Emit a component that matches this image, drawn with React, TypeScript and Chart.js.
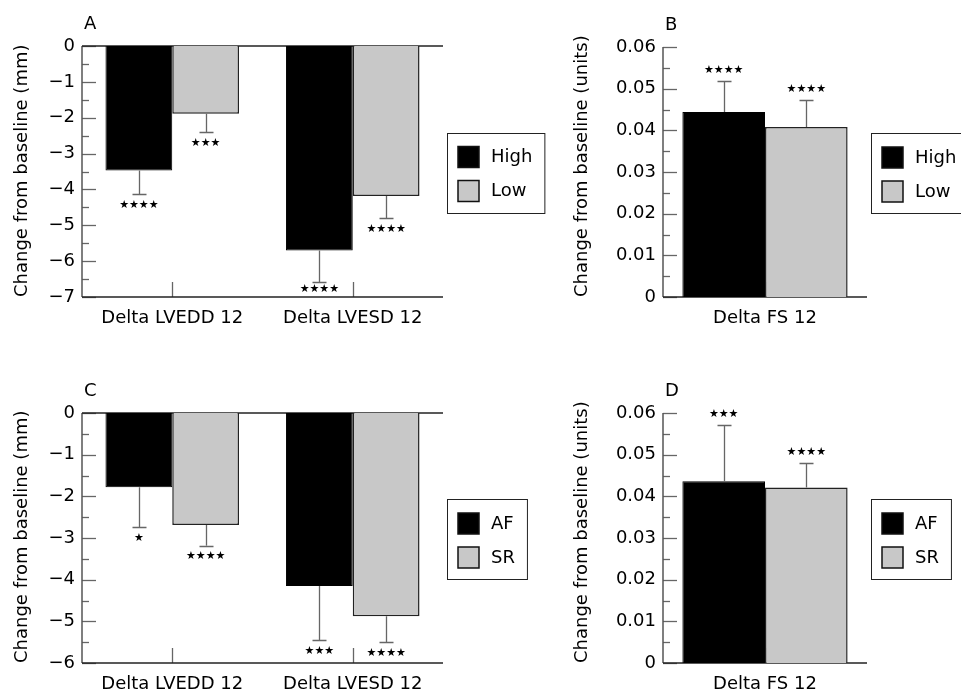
import React, { useEffect, useRef } from "react";
import { Chart, registerables } from "chart.js";

Chart.register(...registerables);

// ---------- DATA ----------
const dimCategories = ["Delta LVEDD 12", "Delta LVESD 12"];
const fsCategories = ["Delta FS 12"];

// Panel A (High / Low)
const aHigh = [-3.47, -5.7];
const aHighErr = [0.65, 0.89];
const aHighStars = ["****", "****"];
const aLow = [-1.89, -4.18];
const aLowErr = [0.51, 0.62];
const aLowStars = ["***", "****"];

// Panel B (High / Low)
const bHigh = [0.0444];
const bHighErr = [0.0074];
const bHighStars = ["****"];
const bLow = [0.0408];
const bLowErr = [0.0065];
const bLowStars = ["****"];

// Panel C (AF / SR)
const cAF = [-1.78, -4.15];
const cAFErr = [0.96, 1.29];
const cAFStars = ["*", "***"];
const cSR = [-2.69, -4.88];
const cSRErr = [0.49, 0.61];
const cSRStars = ["****", "****"];

// Panel D (AF / SR)
const dAF = [0.0436];
const dAFErr = [0.0134];
const dAFStars = ["***"];
const dSR = [0.0421];
const dSRErr = [0.0058];
const dSRStars = ["****"];

const mmTicks = { A: { min: -7, max: 0, step: 1 }, C: { min: -6, max: 0, step: 1 } };
const unitTicks = { min: 0, max: 0.06, step: 0.01 };

const FONT = "'DejaVu Sans', sans-serif";
const BLACK = "#000000";
const GREY = "#c8c8c8";

type PanelCfg = {
  letter: string;
  categories: string[];
  labels: [string, string];
  values: [number[], number[]];
  errs: [number[], number[]];
  stars: [string[], string[]];
  yMin: number;
  yMax: number;
  yStep: number;
  yTitle: string;
  fmt: (v: number) => string;
  catPct: number;
  width: number;
  height: number;
  padTop: number;
  padRight: number;
  yWidth: number;
  xHeight: number;
};

const panelPlugin = {
  id: "panelDecor",
  beforeDatasetsDraw(chart: any) {
    const ctx = chart.ctx;
    const area = chart.chartArea;
    const y = chart.scales.y;
    const x = chart.scales.x;
    const cfg = chart.options.plugins.panelDecor;
    ctx.save();
    // minor + major inward ticks
    ctx.strokeStyle = "#666";
    ctx.lineWidth = 1.3;
    const ticks = y.ticks.map((t: any) => t.value);
    ticks.forEach((v: number, i: number) => {
      const py = Math.round(y.getPixelForValue(v)) + 0.5;
      ctx.beginPath();
      ctx.moveTo(area.left, py);
      ctx.lineTo(area.left + 14, py);
      ctx.stroke();
      if (i < ticks.length - 1) {
        const mid = (v + ticks[i + 1]) / 2;
        const pm = Math.round(y.getPixelForValue(mid)) + 0.5;
        ctx.beginPath();
        ctx.moveTo(area.left, pm);
        ctx.lineTo(area.left + 7, pm);
        ctx.stroke();
      }
    });
    // category ticks (inward from bottom)
    x.ticks.forEach((_t: any, i: number) => {
      const px = Math.round(x.getPixelForTick(i)) + 0.5;
      ctx.beginPath();
      ctx.moveTo(px, area.bottom);
      ctx.lineTo(px, area.bottom - 15);
      ctx.stroke();
    });
    // axes
    ctx.strokeStyle = "#555";
    ctx.lineWidth = 1.5;
    ctx.beginPath();
    ctx.moveTo(area.left, area.top);
    ctx.lineTo(area.left, area.bottom);
    ctx.stroke();
    ctx.strokeStyle = "#222";
    ctx.lineWidth = 1.3;
    ctx.beginPath();
    ctx.moveTo(area.left, area.bottom);
    ctx.lineTo(area.right, area.bottom);
    ctx.stroke();
    const p0 = y.getPixelForValue(0);
    if (p0 < area.bottom - 1) {
      ctx.beginPath();
      ctx.moveTo(area.left, p0);
      ctx.lineTo(area.right, p0);
      ctx.stroke();
    }
    // panel letter
    ctx.fillStyle = "#000";
    ctx.font = `18px ${FONT}`;
    ctx.textAlign = "left";
    ctx.textBaseline = "middle";
    ctx.fillText(cfg.letter, area.left + 2, area.top - 22);
    ctx.restore();
  },
  afterDatasetsDraw(chart: any) {
    const ctx = chart.ctx;
    const area = chart.chartArea;
    const y = chart.scales.y;
    const cfg = chart.options.plugins.panelDecor;
    ctx.save();
    chart.data.datasets.forEach((ds: any, di: number) => {
      const meta = chart.getDatasetMeta(di);
      meta.data.forEach((bar: any, i: number) => {
        const v = ds.data[i];
        const e = cfg.errs[di][i];
        const end = v < 0 ? v - e : v + e;
        const pv = y.getPixelForValue(v);
        const pe = y.getPixelForValue(end);
        const bx = Math.round(bar.x) + 0.5;
        ctx.strokeStyle = "#666";
        ctx.lineWidth = 1.3;
        ctx.beginPath();
        ctx.moveTo(bx, pv);
        ctx.lineTo(bx, pe);
        ctx.moveTo(bx - 7, Math.round(pe) + 0.5);
        ctx.lineTo(bx + 7, Math.round(pe) + 0.5);
        ctx.stroke();
        // stars
        const s = cfg.stars[di][i].replace(/\*/g, "\u2605");
        ctx.fillStyle = "#000";
        ctx.font = `11px ${FONT}`;
        ctx.textAlign = "center";
        ctx.textBaseline = "middle";
        let sy = v < 0 ? pe + 11 : pe - 11;
        if (v < 0) sy = Math.min(sy, area.bottom - 8);
        ctx.fillText(s, bar.x, sy);
      });
    });
    ctx.restore();
  },
  afterDraw(chart: any) {
    const ctx = chart.ctx;
    const area = chart.chartArea;
    ctx.save();
    ctx.font = `18px ${FONT}`;
    const labels = chart.data.datasets.map((d: any) => d.label);
    const tw = Math.max(...labels.map((l: string) => ctx.measureText(l).width));
    const w = 11 + 21 + 12 + tw + 12;
    const h = 80;
    const bx = area.right + 4;
    const by = (area.top + area.bottom) / 2 - h / 2 + 1;
    ctx.strokeStyle = "#222";
    ctx.lineWidth = 1;
    ctx.strokeRect(Math.round(bx) + 0.5, Math.round(by) + 0.5, w, h);
    chart.data.datasets.forEach((d: any, i: number) => {
      const sy = by + 14 + i * 34;
      ctx.fillStyle = d.backgroundColor;
      ctx.fillRect(bx + 11, sy, 21, 21);
      ctx.strokeStyle = "#111";
      ctx.lineWidth = 1.5;
      ctx.strokeRect(bx + 11, sy, 21, 21);
      ctx.fillStyle = "#000";
      ctx.textAlign = "left";
      ctx.textBaseline = "middle";
      ctx.fillText(d.label, bx + 11 + 21 + 12, sy + 11);
    });
    ctx.restore();
  },
};

function Panel({ cfg, left, top }: { cfg: PanelCfg; left: number; top: number }) {
  const ref = useRef<HTMLCanvasElement | null>(null);
  useEffect(() => {
    if (!ref.current) return;
    const chart = new Chart(ref.current, {
      type: "bar",
      data: {
        labels: cfg.categories,
        datasets: [
          {
            label: cfg.labels[0],
            data: cfg.values[0],
            backgroundColor: BLACK,
            borderColor: BLACK,
            borderWidth: 1,
          },
          {
            label: cfg.labels[1],
            data: cfg.values[1],
            backgroundColor: GREY,
            borderColor: "#222",
            borderWidth: 1.5,
          },
        ],
      },
      options: {
        animation: false,
        responsive: false,
        maintainAspectRatio: false,
        devicePixelRatio: 1,
        layout: { padding: { top: cfg.padTop, right: cfg.padRight, left: 0, bottom: 0 } },
        datasets: { bar: { categoryPercentage: cfg.catPct, barPercentage: 1 } },
        plugins: {
          legend: { display: false },
          tooltip: { enabled: false },
          title: { display: false },
          panelDecor: { letter: cfg.letter, errs: cfg.errs, stars: cfg.stars },
        } as any,
        scales: {
          x: {
            grid: { display: false, drawTicks: false },
            border: { display: false },
            ticks: { color: "#000", font: { family: FONT, size: 18 }, padding: 11, maxRotation: 0 },
            afterFit: (s: any) => {
              s.height = cfg.xHeight;
            },
          },
          y: {
            min: cfg.yMin,
            max: cfg.yMax,
            grid: { display: false, drawTicks: false },
            border: { display: false },
            ticks: {
              stepSize: cfg.yStep,
              color: "#000",
              font: { family: FONT, size: 18 },
              padding: 7,
              callback: (v: any) => cfg.fmt(Number(v)),
            },
            title: {
              display: true,
              text: cfg.yTitle,
              align: "start",
              color: "#000",
              font: { family: FONT, size: 18 },
              padding: { top: 12, bottom: 0 },
            },
            afterFit: (s: any) => {
              s.width = cfg.yWidth;
            },
          },
        },
      },
      plugins: [panelPlugin],
    });
    return () => chart.destroy();
  }, []);
  return (
    <canvas
      ref={ref}
      width={cfg.width}
      height={cfg.height}
      style={{ position: "absolute", left, top, width: cfg.width, height: cfg.height }}
    />
  );
}

const mmFmt = (v: number) => (Math.abs(v) < 1e-9 ? "0" : v < 0 ? "\u2212" + Math.abs(Math.round(v)) : String(Math.round(v)));
const unitFmt = (v: number) => (Math.abs(v) < 1e-9 ? "0" : v.toFixed(2));

const panelA: PanelCfg = {
  letter: "A",
  categories: dimCategories,
  labels: ["High", "Low"],
  values: [aHigh, aLow],
  errs: [aHighErr, aLowErr],
  stars: [aHighStars, aLowStars],
  yMin: mmTicks.A.min,
  yMax: mmTicks.A.max,
  yStep: mmTicks.A.step,
  yTitle: "Change from baseline (mm)",
  fmt: mmFmt,
  catPct: 0.74,
  width: 560,
  height: 330,
  padTop: 46,
  padRight: 117,
  yWidth: 82,
  xHeight: 33,
};

const panelB: PanelCfg = {
  letter: "B",
  categories: fsCategories,
  labels: ["High", "Low"],
  values: [bHigh, bLow],
  errs: [bHighErr, bLowErr],
  stars: [bHighStars, bLowStars],
  yMin: unitTicks.min,
  yMax: unitTicks.max,
  yStep: unitTicks.step,
  yTitle: "Change from baseline (units)",
  fmt: unitFmt,
  catPct: 0.81,
  width: 401,
  height: 330,
  padTop: 47,
  padRight: 94,
  yWidth: 103,
  xHeight: 33,
};

const panelC: PanelCfg = {
  letter: "C",
  categories: dimCategories,
  labels: ["AF", "SR"],
  values: [cAF, cSR],
  errs: [cAFErr, cSRErr],
  stars: [cAFStars, cSRStars],
  yMin: mmTicks.C.min,
  yMax: mmTicks.C.max,
  yStep: mmTicks.C.step,
  yTitle: "Change from baseline (mm)",
  fmt: mmFmt,
  catPct: 0.74,
  width: 560,
  height: 361,
  padTop: 83,
  padRight: 117,
  yWidth: 82,
  xHeight: 28,
};

const panelD: PanelCfg = {
  letter: "D",
  categories: fsCategories,
  labels: ["AF", "SR"],
  values: [dAF, dSR],
  errs: [dAFErr, dSRErr],
  stars: [dAFStars, dSRStars],
  yMin: unitTicks.min,
  yMax: unitTicks.max,
  yStep: unitTicks.step,
  yTitle: "Change from baseline (units)",
  fmt: unitFmt,
  catPct: 0.81,
  width: 401,
  height: 361,
  padTop: 83,
  padRight: 94,
  yWidth: 103,
  xHeight: 28,
};

export default function App() {
  return (
    <div style={{ position: "absolute", left: 0, top: 0, width: 961, height: 691, background: "#fff", overflow: "hidden" }}>
      <Panel cfg={panelA} left={0} top={0} />
      <Panel cfg={panelB} left={560} top={0} />
      <Panel cfg={panelC} left={0} top={330} />
      <Panel cfg={panelD} left={560} top={330} />
    </div>
  );
}
